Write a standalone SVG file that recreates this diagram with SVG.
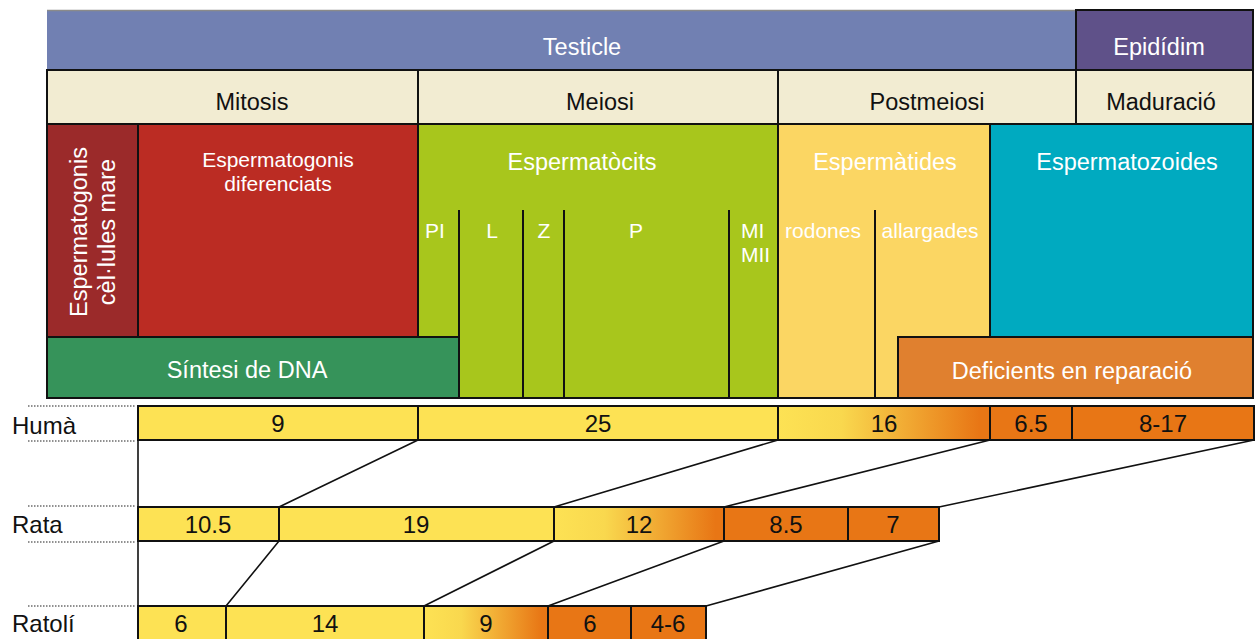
<svg xmlns="http://www.w3.org/2000/svg" width="1255" height="639" viewBox="0 0 1255 639">
<defs>
<style>
text{font-family:"Liberation Sans",Arial,sans-serif;}
.w{fill:#fff;font-size:23.5px;text-anchor:middle;}
.ws{fill:#fff;font-size:21px;text-anchor:middle;}
.k{fill:#111;font-size:23.5px;text-anchor:middle;}
.n{fill:#111;font-size:24px;text-anchor:middle;}
.sp{fill:#111;font-size:24px;}
.cell{stroke:#111;stroke-width:2;}
.bar{stroke:#111;stroke-width:2;}
.div{stroke:#111;stroke-width:2;fill:none;}
.con{stroke:#111;stroke-width:1.6;fill:none;}
.dot{stroke:#222;stroke-width:1.2;stroke-dasharray:1.5 1.5;fill:none;}
</style>
<linearGradient id="grad" x1="0" y1="0" x2="1" y2="0">
<stop offset="0" stop-color="#fde254"/>
<stop offset="0.3" stop-color="#f9d84e"/>
<stop offset="0.95" stop-color="#e87615"/>
<stop offset="1" stop-color="#e87615"/>
</linearGradient>
</defs>

<g id="testicle">
<rect x="47" y="10" width="1029" height="60" fill="#7180b2"/>
<line x1="47" y1="10.5" x2="1254" y2="10.5" stroke="#8a8a8a" stroke-width="1.5"/>
<text class="w" x="582" y="55">Testicle</text>
</g>
<g id="epididim">
<rect x="1076" y="10" width="177" height="60" fill="#5f5189" class="cell"/>
<text class="w" x="1159" y="55">Epidídim</text>
</g>

<g id="mitosis">
<rect x="47" y="70" width="371" height="54" fill="#f2ecd2" class="cell"/>
<text class="k" x="252" y="110">Mitosis</text>
</g>
<g id="meiosi">
<rect x="418" y="70" width="360" height="54" fill="#f2ecd2" class="cell"/>
<text class="k" x="600" y="110">Meiosi</text>
</g>
<g id="postmeiosi">
<rect x="778" y="70" width="298" height="54" fill="#f2ecd2" class="cell"/>
<text class="k" x="927" y="110">Postmeiosi</text>
</g>
<g id="maduracio">
<rect x="1076" y="70" width="177" height="54" fill="#f2ecd2" class="cell"/>
<text class="k" x="1161" y="110">Maduració</text>
</g>

<g id="espermatogonis-mare">
<rect x="47" y="124" width="91" height="213" fill="#9b2a2a" class="cell"/>
<text class="w" transform="translate(87 232) rotate(-90)" x="0" y="0">Espermatogonis</text>
<text class="w" transform="translate(115 232) rotate(-90)" x="0" y="0">cèl·lules mare</text>
</g>
<g id="espermatogonis-diferenciats">
<rect x="138" y="124" width="280" height="213" fill="#bb2c23" class="cell"/>
<text class="ws" x="278" y="167">Espermatogonis</text>
<text class="ws" x="278" y="191">diferenciats</text>
</g>
<g id="espermatocits">
<rect x="418" y="124" width="360" height="274" fill="#a8c61c" class="cell"/>
<text class="w" x="582" y="170">Espermatòcits</text>
<text class="ws" x="435" y="238">PI</text>
<text class="ws" x="492" y="238">L</text>
<text class="ws" x="544" y="238">Z</text>
<text class="ws" x="636" y="238">P</text>
<text class="ws" x="741" y="238" style="text-anchor:start">MI</text>
<text class="ws" x="741" y="262" style="text-anchor:start">MII</text>
<path class="div" d="M523 210V398M564 210V398M729 210V398"/>
</g>
<g id="espermatides">
<rect x="778" y="124" width="212" height="274" fill="#fbd663" class="cell"/>
<text class="w" x="885" y="170">Espermàtides</text>
<text class="ws" x="823" y="238">rodones</text>
<text class="ws" x="930" y="238">allargades</text>
<path class="div" d="M875 210V398"/>
</g>
<g id="espermatozoides">
<rect x="990" y="124" width="263" height="213" fill="#00aac0" class="cell"/>
<text class="w" x="1127" y="170">Espermatozoides</text>
</g>
<g id="sintesi">
<rect x="47" y="337" width="412" height="61" fill="#36935a" class="cell"/>
<path class="div" d="M459 210V337"/>
<text class="w" x="247" y="378">Síntesi de DNA</text>
</g>
<g id="deficients">
<rect x="898" y="337" width="355" height="61" fill="#e0802f" class="cell"/>
<text class="w" x="1072" y="379">Deficients en reparació</text>
</g>

<g id="huma">
<text class="sp" x="12" y="434">Humà</text>
<rect x="138" y="406" width="280" height="34" fill="#fde254" class="bar"/>
<text class="n" x="278" y="432">9</text>
<rect x="418" y="406" width="360" height="34" fill="#fde254" class="bar"/>
<text class="n" x="598" y="432">25</text>
<rect x="778" y="406" width="212" height="34" fill="url(#grad)" class="bar"/>
<text class="n" x="884" y="432">16</text>
<rect x="990" y="406" width="82" height="34" fill="#e87615" class="bar"/>
<text class="n" x="1031" y="432">6.5</text>
<rect x="1072" y="406" width="182" height="34" fill="#e87615" class="bar"/>
<text class="n" x="1163" y="432">8-17</text>
</g>

<g id="rata">
<text class="sp" x="12" y="533">Rata</text>
<rect x="138" y="507" width="141" height="34" fill="#fde254" class="bar"/>
<text class="n" x="208" y="533">10.5</text>
<rect x="279" y="507" width="275" height="34" fill="#fde254" class="bar"/>
<text class="n" x="416" y="533">19</text>
<rect x="554" y="507" width="170" height="34" fill="url(#grad)" class="bar"/>
<text class="n" x="639" y="533">12</text>
<rect x="724" y="507" width="124" height="34" fill="#e87615" class="bar"/>
<text class="n" x="786" y="533">8.5</text>
<rect x="848" y="507" width="91" height="34" fill="#e87615" class="bar"/>
<text class="n" x="893" y="533">7</text>
</g>

<g id="ratoli">
<text class="sp" x="12" y="632">Ratolí</text>
<rect x="138" y="606" width="88" height="40" fill="#fde254" class="bar"/>
<text class="n" x="181" y="632">6</text>
<rect x="226" y="606" width="198" height="40" fill="#fde254" class="bar"/>
<text class="n" x="325" y="632">14</text>
<rect x="424" y="606" width="124" height="40" fill="url(#grad)" class="bar"/>
<text class="n" x="486" y="632">9</text>
<rect x="548" y="606" width="83" height="40" fill="#e87615" class="bar"/>
<text class="n" x="590" y="632">6</text>
<rect x="631" y="606" width="75" height="40" fill="#e87615" class="bar"/>
<text class="n" x="668" y="632">4-6</text>
</g>

<g id="connectors">
<path class="con" d="M138 440V507M138 541V606"/>
<path class="con" d="M418 440L279 507M778 440L554 507M990 440L724 507M1254 440L939 507"/>
<path class="con" d="M279 541L226 606M554 541L424 606M724 541L548 606M939 541L706 606"/>
<path class="dot" d="M28 406H135M28 441H135M28 506H135M28 542H135M28 606H135"/>
</g>
</svg>
